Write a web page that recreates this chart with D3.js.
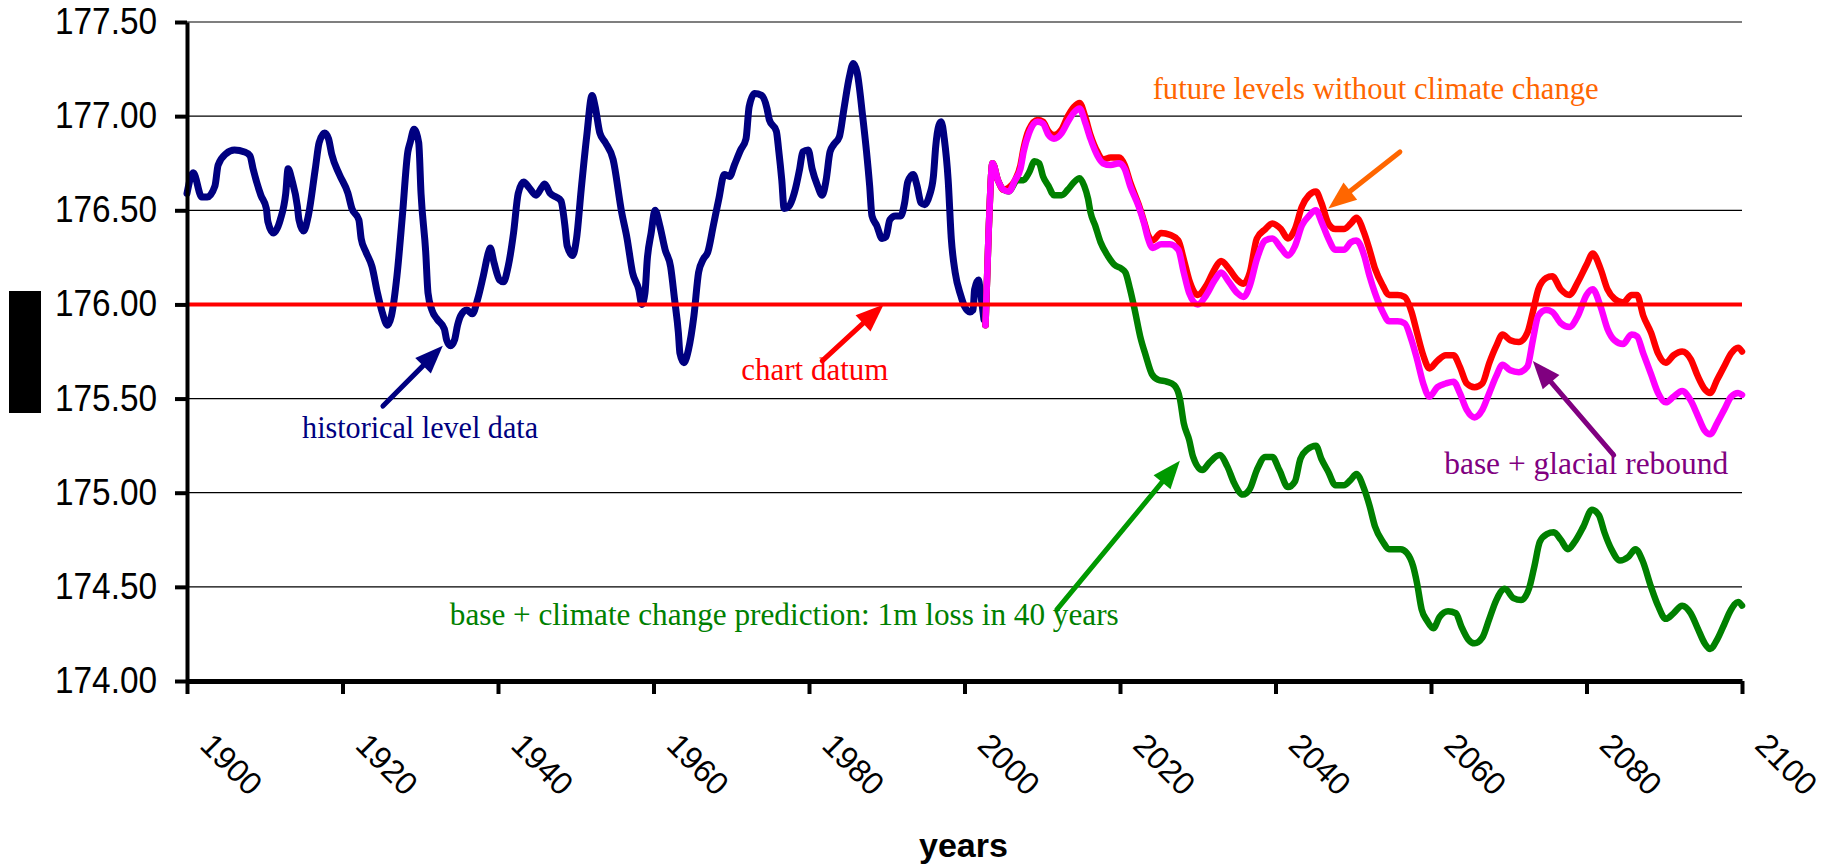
<!DOCTYPE html>
<html>
<head>
<meta charset="utf-8">
<script src="https://cdn.jsdelivr.net/npm/d3@7"></script>
<style>
  body { margin: 0; background: #fff; }
  svg { display: block; }
</style>
</head>
<body>
<svg id="chart" width="1833" height="868"></svg>
<script>
// lake level chart: history + three future scenarios

const yTicks = [174, 174.5, 175, 175.5, 176, 176.5, 177, 177.5];
const xTicks = [1900, 1920, 1940, 1960, 1980, 2000, 2020, 2040, 2060, 2080, 2100];
const datumLevel = 176;

const histYears = [
  1900.0, 1900.8, 1901.9, 1902.6, 1903.6, 1904.0, 1905.0, 1906.1, 1907.4, 1908.1,
  1908.5, 1909.5, 1910.2, 1910.4, 1911.1, 1912.0, 1912.7, 1913.0, 1913.5, 1914.2,
  1914.4, 1915.0, 1915.6, 1916.5, 1917.0, 1917.7, 1918.2, 1918.6, 1919.6, 1920.7,
  1921.2, 1922.1, 1922.4, 1923.0, 1923.8, 1924.5, 1925.1, 1925.8, 1926.3, 1927.0,
  1927.7, 1928.4, 1928.7, 1929.2, 1929.8, 1930.1, 1930.7, 1931.0, 1931.5, 1932.2,
  1933.1, 1933.4, 1933.9, 1934.4, 1934.8, 1935.2, 1936.0, 1936.7, 1937.4, 1938.1,
  1938.8, 1939.0, 1939.5, 1940.2, 1940.7, 1941.3, 1942.0, 1942.6, 1943.3, 1944.0,
  1944.9, 1945.6, 1946.0, 1946.7, 1947.5, 1948.1, 1948.6, 1948.9, 1949.6, 1950.1,
  1950.7, 1951.4, 1952.1, 1952.5, 1953.1, 1953.8, 1954.8, 1955.9, 1956.6, 1957.3,
  1958.1, 1958.5, 1958.9, 1959.2, 1959.7, 1960.2, 1960.8, 1961.5, 1962.2, 1962.7,
  1963.2, 1963.4, 1963.9, 1964.5, 1965.2, 1965.8, 1966.4, 1967.0, 1967.7, 1968.4,
  1969.1, 1969.8, 1970.4, 1971.2, 1971.9, 1972.3, 1973.0, 1973.9, 1974.6, 1974.9,
  1975.8, 1976.1, 1976.5, 1976.8, 1977.4, 1978.1, 1978.8, 1979.2, 1979.9, 1980.4,
  1981.1, 1981.7, 1982.2, 1982.7, 1983.2, 1983.9, 1984.5, 1985.2, 1985.7, 1986.2,
  1986.9, 1987.4, 1987.8, 1988.1, 1988.7, 1989.4, 1989.9, 1990.4, 1991.1, 1991.8,
  1992.3, 1992.7, 1993.4, 1993.9, 1994.4, 1994.9, 1995.5, 1996.0, 1996.3, 1996.7,
  1997.0, 1997.4, 1997.9, 1998.3, 1998.8, 1999.5, 2000.0, 2000.7, 2001.1, 2001.3,
  2001.8, 2002.0, 2002.5
];
const histLevels = [
  176.59, 176.70, 176.57, 176.57, 176.63, 176.74, 176.80, 176.82, 176.81, 176.79,
  176.72, 176.58, 176.51, 176.44, 176.38, 176.45, 176.59, 176.72, 176.66, 176.52,
  176.45, 176.39, 176.47, 176.72, 176.86, 176.91, 176.88, 176.80, 176.69, 176.59,
  176.51, 176.45, 176.35, 176.28, 176.20, 176.06, 175.96, 175.89, 175.94, 176.15,
  176.47, 176.81, 176.86, 176.93, 176.86, 176.59, 176.28, 176.06, 175.97, 175.92,
  175.87, 175.81, 175.78, 175.81, 175.89, 175.94, 175.97, 175.95, 176.03, 176.15,
  176.28, 176.30, 176.22, 176.13, 176.12, 176.20, 176.38, 176.59, 176.65, 176.62,
  176.58, 176.62, 176.64, 176.59, 176.57, 176.55, 176.42, 176.31, 176.26, 176.35,
  176.61, 176.89, 177.11, 177.05, 176.91, 176.86, 176.77, 176.49, 176.35, 176.17,
  176.08, 176.00, 176.06, 176.24, 176.38, 176.50, 176.42, 176.29, 176.20, 176.03,
  175.85, 175.74, 175.69, 175.76, 175.94, 176.17, 176.24, 176.28, 176.42, 176.56,
  176.69, 176.68, 176.74, 176.82, 176.88, 177.05, 177.12, 177.11, 177.04, 176.98,
  176.92, 176.82, 176.66, 176.51, 176.52, 176.59, 176.72, 176.81, 176.82, 176.72,
  176.63, 176.58, 176.66, 176.81, 176.85, 176.89, 177.04, 177.21, 177.28, 177.23,
  177.00, 176.81, 176.63, 176.47, 176.42, 176.35, 176.36, 176.45, 176.47, 176.47,
  176.54, 176.65, 176.69, 176.63, 176.54, 176.53, 176.58, 176.68, 176.84, 176.95,
  176.97, 176.88, 176.66, 176.35, 176.17, 176.05, 175.99, 175.96, 175.97, 176.08,
  176.13, 176.08, 175.92
];

const futureYears = [
  2002.7, 2003.1, 2003.6, 2004.3, 2005.0, 2005.7, 2006.5, 2007.2, 2007.6, 2008.3,
  2009.4, 2010.1, 2010.8, 2011.5, 2012.5, 2013.3, 2014.1, 2014.8, 2015.5, 2016.2,
  2017.1, 2017.8, 2018.8, 2019.9, 2020.6, 2021.3, 2022.4, 2023.1, 2023.6, 2024.2,
  2025.3, 2026.4, 2027.5, 2028.2, 2028.9, 2030.0, 2031.1, 2032.2, 2033.0, 2034.0,
  2035.1, 2035.9, 2036.7, 2037.6, 2038.7, 2039.6, 2040.7, 2041.6, 2042.5, 2043.4,
  2044.3, 2045.2, 2045.9, 2046.8, 2047.7, 2048.8, 2049.7, 2050.4, 2051.4, 2052.1,
  2052.8, 2053.8, 2054.6, 2055.7, 2056.6, 2057.5, 2058.2, 2059.0, 2059.8, 2060.8,
  2061.9, 2062.9, 2063.7, 2064.6, 2065.6, 2066.6, 2067.5, 2068.4, 2069.2, 2070.2,
  2071.3, 2072.4, 2073.1, 2073.8, 2074.8, 2075.6, 2076.7, 2077.8, 2078.9, 2080.0,
  2080.8, 2081.8, 2082.7, 2083.6, 2084.7, 2085.8, 2086.5, 2087.3, 2088.3, 2089.2,
  2090.2, 2091.2, 2092.3, 2093.4, 2094.3, 2095.2, 2095.9, 2096.8, 2097.7, 2098.6,
  2099.5, 2100.0
];
// future levels without climate change (red)
const baseLevels = [
  175.89, 176.38, 176.75, 176.66, 176.61, 176.62, 176.66, 176.74, 176.83, 176.93,
  176.98, 176.97, 176.92, 176.90, 176.93, 177.00, 177.05, 177.07, 177.00, 176.90,
  176.81, 176.77, 176.78, 176.78, 176.74, 176.65, 176.53, 176.44, 176.37, 176.34,
  176.38, 176.37, 176.34, 176.24, 176.13, 176.05, 176.10, 176.19, 176.23, 176.19,
  176.13, 176.11, 176.17, 176.35, 176.40, 176.43, 176.40, 176.35, 176.40, 176.52,
  176.58, 176.60, 176.54, 176.43, 176.40, 176.40, 176.43, 176.46, 176.38, 176.29,
  176.19, 176.10, 176.05, 176.05, 176.04, 175.96, 175.85, 175.73, 175.66, 175.70,
  175.73, 175.73, 175.67, 175.58, 175.56, 175.58, 175.69, 175.78, 175.84, 175.81,
  175.80, 175.85, 175.96, 176.08, 176.14, 176.15, 176.08, 176.05, 176.12, 176.21,
  176.27, 176.19, 176.08, 176.03, 176.01, 176.05, 176.05, 175.94, 175.85, 175.74,
  175.69, 175.73, 175.75, 175.71, 175.62, 175.55, 175.53, 175.60, 175.67, 175.74,
  175.77, 175.75
];
// base + glacial rebound (magenta)
const reboundLevels = [
  175.89, 176.38, 176.75, 176.66, 176.61, 176.60, 176.66, 176.72, 176.81, 176.91,
  176.97, 176.96, 176.90, 176.88, 176.91, 176.97, 177.02, 177.04, 176.97, 176.88,
  176.79, 176.75, 176.74, 176.75, 176.72, 176.63, 176.52, 176.43, 176.35, 176.30,
  176.32, 176.32, 176.29, 176.17, 176.06, 176.00, 176.05, 176.13, 176.17, 176.12,
  176.06, 176.04, 176.10, 176.24, 176.34, 176.35, 176.30, 176.26, 176.31, 176.42,
  176.47, 176.50, 176.44, 176.35, 176.29, 176.29, 176.33, 176.34, 176.26, 176.15,
  176.06, 175.96, 175.91, 175.91, 175.90, 175.81, 175.71, 175.58, 175.51, 175.56,
  175.58, 175.59, 175.53, 175.44, 175.40, 175.44, 175.53, 175.62, 175.68, 175.65,
  175.64, 175.67, 175.81, 175.94, 175.97, 175.96, 175.90, 175.88, 175.94, 176.05,
  176.08, 175.99, 175.87, 175.81, 175.79, 175.84, 175.83, 175.74, 175.63, 175.53,
  175.48, 175.51, 175.54, 175.49, 175.41, 175.33, 175.31, 175.37, 175.44, 175.51,
  175.53, 175.52
];

// base + climate change prediction (green)
const climateYears = [
  2002.7, 2003.1, 2003.6, 2004.3, 2005.0, 2005.7, 2006.8, 2007.6, 2008.3, 2009.0,
  2009.6, 2010.1, 2010.8, 2011.5, 2012.5, 2013.3, 2014.1, 2014.8, 2015.4, 2015.9,
  2016.2, 2016.8, 2017.5, 2018.4, 2019.3, 2020.2, 2020.7, 2021.3, 2021.9, 2022.6,
  2023.3, 2024.1, 2024.9, 2026.0, 2027.0, 2027.7, 2028.2, 2028.9, 2029.4, 2030.6,
  2031.5, 2032.8, 2033.8, 2034.7, 2035.8, 2036.7, 2037.6, 2038.7, 2039.6, 2040.5,
  2041.6, 2042.5, 2043.2, 2044.1, 2045.2, 2045.9, 2046.8, 2047.7, 2048.8, 2049.7,
  2050.4, 2051.4, 2052.1, 2052.8, 2053.8, 2054.6, 2056.1, 2056.9, 2057.7, 2058.2,
  2058.8, 2059.5, 2060.3, 2061.1, 2062.2, 2063.2, 2063.9, 2064.8, 2065.6, 2066.6,
  2067.5, 2068.4, 2069.5, 2070.6, 2071.6, 2072.6, 2073.3, 2074.0, 2074.9, 2075.8,
  2076.7, 2077.6, 2078.5, 2079.6, 2080.7, 2081.6, 2082.3, 2083.2, 2084.3, 2085.4,
  2086.3, 2087.2, 2088.3, 2089.2, 2090.2, 2091.2, 2092.3, 2093.4, 2094.3, 2095.2,
  2095.9, 2096.8, 2097.7, 2098.6, 2099.5, 2100.0
];
const climateLevels = [
  175.89, 176.38, 176.75, 176.66, 176.61, 176.60, 176.66, 176.66, 176.70, 176.76,
  176.75, 176.68, 176.63, 176.58, 176.58, 176.61, 176.65, 176.67, 176.63, 176.56,
  176.49, 176.42, 176.33, 176.26, 176.21, 176.19, 176.17, 176.08, 175.97, 175.83,
  175.73, 175.63, 175.60, 175.59, 175.57, 175.50, 175.37, 175.28, 175.19, 175.12,
  175.16, 175.20, 175.14, 175.05, 174.99, 175.02, 175.12, 175.19, 175.19, 175.12,
  175.03, 175.06, 175.18, 175.23, 175.25, 175.18, 175.11, 175.04, 175.04, 175.07,
  175.10, 175.02, 174.93, 174.82, 174.74, 174.70, 174.70, 174.68, 174.61, 174.52,
  174.38, 174.32, 174.28, 174.34, 174.37, 174.36, 174.29, 174.22, 174.20, 174.23,
  174.33, 174.43, 174.49, 174.44, 174.43, 174.49, 174.61, 174.74, 174.78, 174.79,
  174.75, 174.70, 174.74, 174.82, 174.91, 174.88, 174.79, 174.70, 174.64, 174.66,
  174.70, 174.64, 174.50, 174.40, 174.33, 174.36, 174.40, 174.36, 174.28, 174.20,
  174.17, 174.22, 174.30, 174.38, 174.42, 174.40
];

// annotation labels, anchored at [year, level] of their baseline start
const noteTexts = [
  "historical level data",
  "chart datum",
  "future levels without climate change",
  "base + glacial rebound",
  "base + climate change prediction: 1m loss in 40 years"
];
const noteAnchors = [[1914.8, 175.29], [1971.3, 175.60], [2024.2, 177.09], [2061.7, 175.10], [1933.8, 174.30]];
const noteWidths = [236, 147, 446, 284, 669];
const noteColors = ["#000080", "#ff0000", "#ff6600", "#800080", "#008000"];

// arrows: [tail, tip] in [year, level]
const arrowEnds = [
  [[1925.2, 175.46], [1932.9, 175.78]],
  [[1981.7, 175.70], [1989.6, 176.00]],
  [[2056.0, 176.81], [2046.8, 176.51]],
  [[2083.5, 175.20], [2073.1, 175.70]],
  [[2011.9, 174.38], [2027.7, 175.17]]
];
const arrowColors = ["#000080", "#ff0000", "#ff6600", "#800080", "#009900"];

const margin = { top: 22, right: 91, bottom: 187, left: 187 };
const width = 1833;
const height = 868;

const svg = d3.select("#chart");

const x = d3
  .scaleLinear()
  .domain([1900, 2100])
  .range([margin.left, width - margin.right]);

const y = d3
  .scaleLinear()
  .domain([174, 177.5])
  .range([height - margin.bottom, margin.top]);

// mystery black box where the y title would be
svg.append("rect")
  .attr("x", 9).attr("y", 291)
  .attr("width", 32).attr("height", 122)
  .attr("fill", "#000");

// gridlines
svg.append("g")
  .selectAll("line")
  .data(yTicks.filter((d) => d > 174))
  .join("line")
  .attr("x1", x(1900))
  .attr("x2", x(2100))
  .attr("y1", (d) => y(d))
  .attr("y2", (d) => y(d))
  .attr("stroke", "#000")
  .attr("stroke-width", 1.2);

const line = (xs) =>
  d3.line()
    .x((d, i) => x(xs[i]))
    .y((d) => y(d))
    .curve(d3.curveMonotoneX);

const series = [
  { years: histYears, values: histLevels, color: "#000080", w: 7 },
  { years: climateYears, values: climateLevels, color: "#008000", w: 6.5 },
  { years: futureYears, values: baseLevels, color: "#ff0000", w: 6.5 },
  { years: futureYears, values: reboundLevels, color: "#ff00ff", w: 6.5 }
];

svg.append("g")
  .selectAll("path")
  .data(series)
  .join("path")
  .attr("fill", "none")
  .attr("stroke", (d) => d.color)
  .attr("stroke-width", (d) => d.w)
  .attr("stroke-linejoin", "round")
  .attr("stroke-linecap", "round")
  .attr("d", (d) => line(d.years)(d.values));

// chart datum
svg.append("line")
  .attr("x1", x(1900))
  .attr("x2", x(2100))
  .attr("y1", y(datumLevel))
  .attr("y2", y(datumLevel))
  .attr("stroke", "#ff0000")
  .attr("stroke-width", 4);

// axes
svg.append("g")
  .attr("transform", `translate(${margin.left},0)`)
  .call(
    d3.axisLeft(y)
      .tickValues(yTicks)
      .tickSize(12)
      .tickSizeOuter(0)
      .tickPadding(18)
      .tickFormat(d3.format(".2f"))
  )
  .call((g) => g.select(".domain").attr("stroke-width", 4))
  .call((g) => g.selectAll(".tick line").attr("stroke-width", 4))
  .call((g) =>
    g.selectAll(".tick text")
      .attr("font-family", "'Liberation Sans', Arial, sans-serif")
      .attr("font-size", 36)
      .attr("fill", "#000")
      .attr("textLength", 102)
      .attr("lengthAdjust", "spacingAndGlyphs")
  );

svg.append("g")
  .attr("transform", `translate(0,${y(174)})`)
  .call(
    d3.axisBottom(x)
      .tickValues(xTicks)
      .tickSize(13)
      .tickSizeOuter(0)
      .tickFormat((d) => String(d))
  )
  .call((g) => g.select(".domain").attr("stroke-width", 5))
  .call((g) => g.selectAll(".tick line").attr("stroke-width", 4))
  .call((g) =>
    g.selectAll(".tick text")
      .attr("y", null)
      .attr("dy", null)
      .attr("text-anchor", "start")
      .attr("transform", "translate(11,66) rotate(45)")
      .attr("font-family", "'Liberation Sans', Arial, sans-serif")
      .attr("font-size", 32)
      .attr("fill", "#000")
  );

svg.append("text")
  .attr("x", x(2000) - 1)
  .attr("y", 857)
  .attr("text-anchor", "middle")
  .attr("font-family", "'Liberation Sans', Arial, sans-serif")
  .attr("font-weight", "bold")
  .attr("font-size", 34)
  .attr("textLength", 89)
  .attr("lengthAdjust", "spacingAndGlyphs")
  .text("years");

// arrows
const arrowG = svg.append("g");
arrowEnds.forEach(([tail, tip], i) => {
  const x0 = x(tail[0]), y0 = y(tail[1]);
  const x1 = x(tip[0]), y1 = y(tip[1]);
  const len = Math.hypot(x1 - x0, y1 - y0);
  const ux = (x1 - x0) / len, uy = (y1 - y0) / len;
  const head = 28, half = 11;
  const bx = x1 - ux * head, by = y1 - uy * head;
  arrowG.append("line")
    .attr("x1", x0).attr("y1", y0)
    .attr("x2", bx + ux * 4).attr("y2", by + uy * 4)
    .attr("stroke", arrowColors[i])
    .attr("stroke-width", 5)
    .attr("stroke-linecap", "round");
  arrowG.append("path")
    .attr("d", `M${x1},${y1}L${bx - uy * half},${by + ux * half}L${bx + uy * half},${by - ux * half}Z`)
    .attr("fill", arrowColors[i]);
});

// annotation labels
svg.append("g")
  .selectAll("text")
  .data(noteTexts)
  .join("text")
  .attr("x", (d, i) => x(noteAnchors[i][0]))
  .attr("y", (d, i) => y(noteAnchors[i][1]))
  .attr("fill", (d, i) => noteColors[i])
  .attr("font-family", "'Liberation Serif', 'Times New Roman', serif")
  .attr("font-size", 31)
  .attr("textLength", (d, i) => noteWidths[i])
  .attr("lengthAdjust", "spacingAndGlyphs")
  .text((d) => d);
</script>
</body>
</html>
